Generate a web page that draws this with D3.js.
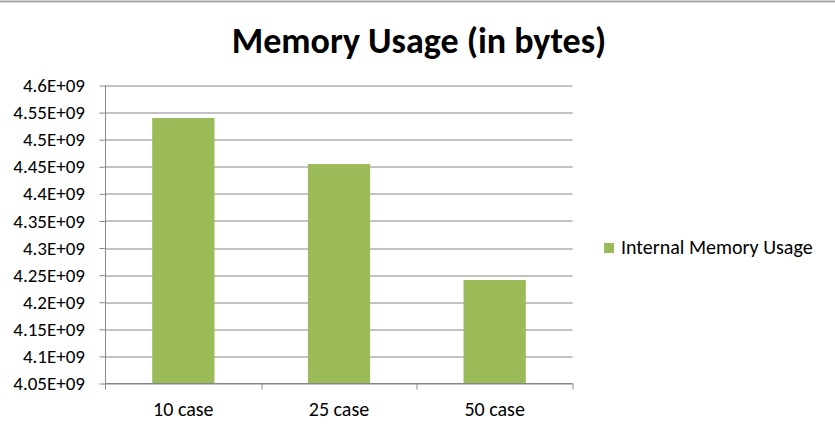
<!DOCTYPE html>
<html>
<head>
<meta charset="utf-8">
<script src="https://cdn.jsdelivr.net/npm/d3@7"></script>
<style>
  body { margin: 0; background: #fff; }
  svg text { font-family: Carlito, Calibri, "Open Sans", sans-serif; fill: #000; }
</style>
</head>
<body>
<svg id="chart" width="835" height="430"></svg>
<script>
// data
const categories = ["10 case", "25 case", "50 case"];
const memoryUsage = [4.54e9, 4.455e9, 4.241e9];
const yTicks = [4.05e9, 4.1e9, 4.15e9, 4.2e9, 4.25e9, 4.3e9, 4.35e9, 4.4e9, 4.45e9, 4.5e9, 4.55e9, 4.6e9];
const yTickLabels = ["4.05E+09", "4.1E+09", "4.15E+09", "4.2E+09", "4.25E+09", "4.3E+09",
  "4.35E+09", "4.4E+09", "4.45E+09", "4.5E+09", "4.55E+09", "4.6E+09"];
const seriesName = "Internal Memory Usage";
const title = "Memory Usage (in bytes)";

const svg = d3.select("#chart");
const margin = { top: 85.5, left: 105.5, right: 262.5, bottom: 46.5 };
const width = 835 - margin.left - margin.right;
const height = 430 - margin.top - margin.bottom;
const barColor = "#9bbb59";
const gridColor = "#868686";

// outer frame line at the top
svg.append("line")
  .attr("x1", 0).attr("x2", 835)
  .attr("y1", 1.5).attr("y2", 1.5)
  .style("stroke", "#a6a6a6")
  .style("stroke-width", 2);

svg.append("text")
  .attr("x", 419)
  .attr("y", 53)
  .attr("text-anchor", "middle")
  .style("font-size", "36px")
  .style("font-weight", "bold")
  .text(title);

const g = svg.append("g").attr("transform", `translate(${margin.left},${margin.top})`);

const x = d3.scaleBand()
  .domain(categories)
  .range([0, width])
  .paddingInner(0.6)
  .paddingOuter(0.3);

const y = d3.scaleLinear()
  .domain([4.05e9, 4.6e9])
  .range([height, 0]);

// gridlines
g.selectAll(".grid")
  .data(yTicks)
  .enter()
  .append("line")
  .attr("class", "grid")
  .attr("x1", 0)
  .attr("x2", width)
  .attr("y1", (d) => Math.round(y(d)) + 0.5)
  .attr("y2", (d) => Math.round(y(d)) + 0.5)
  .style("stroke", gridColor)
  .style("stroke-width", 1);

// bars
g.selectAll(".bar")
  .data(memoryUsage)
  .enter()
  .append("rect")
  .attr("class", "bar")
  .attr("x", (d, i) => x(categories[i]))
  .attr("y", (d) => y(d))
  .attr("width", x.bandwidth())
  .attr("height", (d) => height - y(d))
  .style("fill", barColor);

// y axis
const yAxis = d3.axisLeft(y)
  .tickValues(yTicks)
  .tickSize(6)
  .tickPadding(14.5)
  .tickFormat((d, i) => yTickLabels[i]);

const yG = g.append("g").call(yAxis);
yG.select(".domain").attr("d", `M0,0V${height + 6}`);
yG.selectAll("text").style("font-size", "19px");

// x axis with ticks on category boundaries
const xAxisG = g.append("g").attr("transform", `translate(0,${height})`);
xAxisG.append("line")
  .attr("x1", 0).attr("x2", width)
  .style("stroke", gridColor);
const boundaries = categories.map((c) => x(c) + x.bandwidth() / 2 + x.step() / 2);
xAxisG.selectAll(".xtick")
  .data(boundaries)
  .enter()
  .append("line")
  .attr("class", "xtick")
  .attr("x1", (d) => Math.round(d) + 0.5)
  .attr("x2", (d) => Math.round(d) + 0.5)
  .attr("y1", 0)
  .attr("y2", 6)
  .style("stroke", gridColor);
xAxisG.selectAll(".xlabel")
  .data(categories)
  .enter()
  .append("text")
  .attr("class", "xlabel")
  .attr("x", (d) => x(d) + x.bandwidth() / 2)
  .attr("y", 32)
  .attr("text-anchor", "middle")
  .style("font-size", "20px")
  .text((d) => d);

g.selectAll(".domain, .tick line").style("stroke", gridColor);

// legend
const legend = svg.append("g").attr("transform", "translate(604,243)");
legend.append("rect")
  .attr("width", 10)
  .attr("height", 10)
  .style("fill", barColor);
legend.append("text")
  .attr("x", 17)
  .attr("y", 11)
  .style("font-size", "20px")
  .text(seriesName);
</script>
</body>
</html>
